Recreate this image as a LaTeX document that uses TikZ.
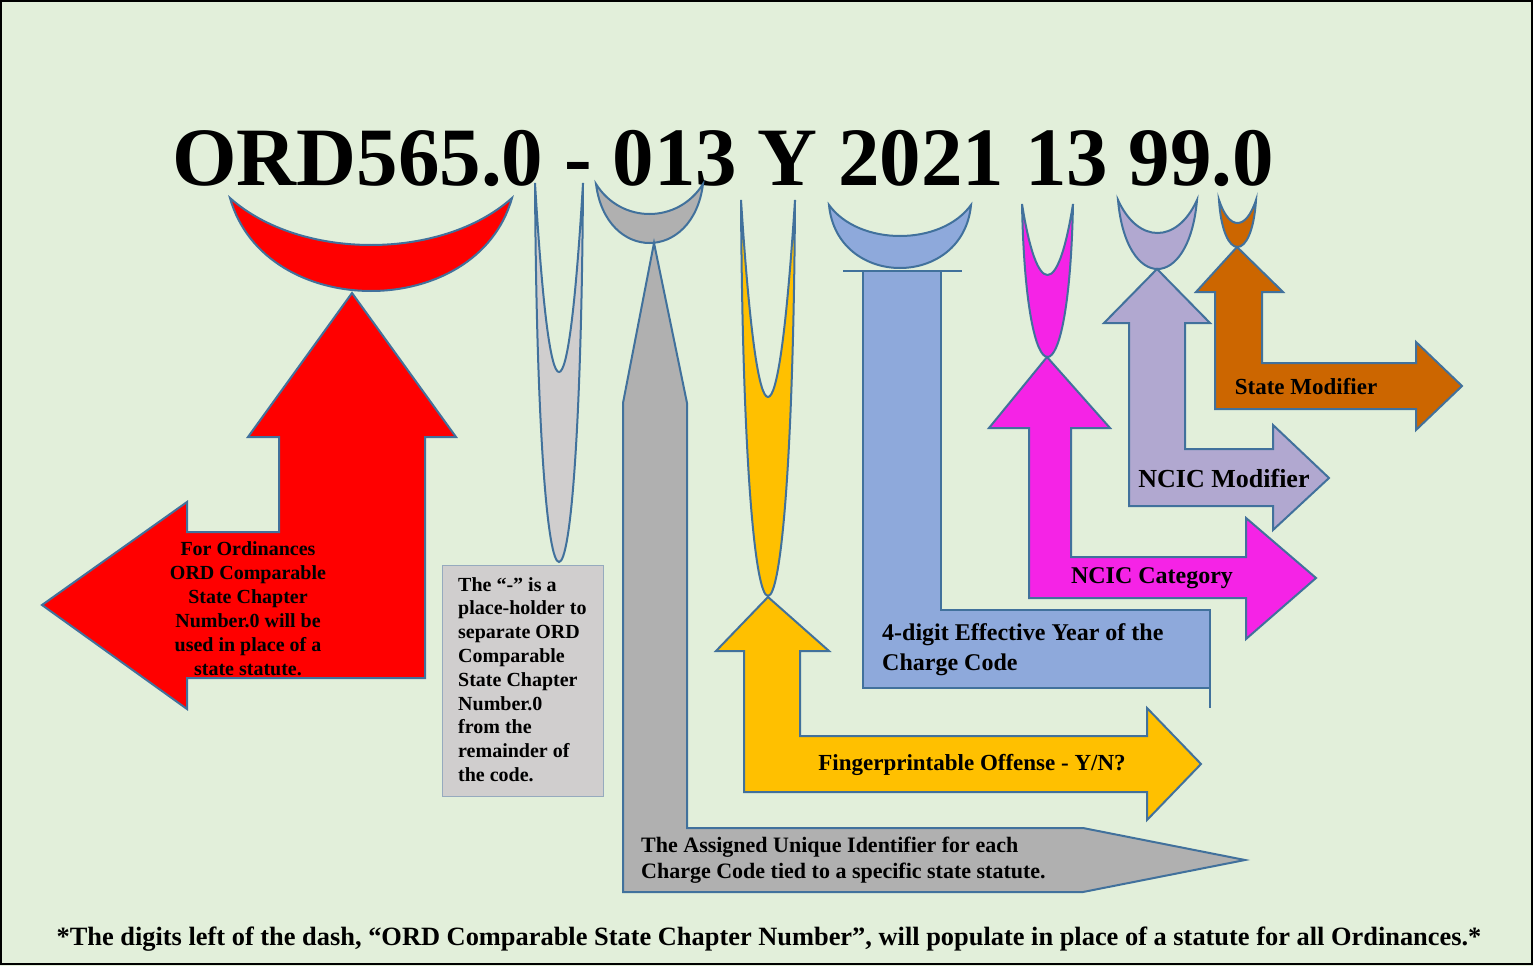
\documentclass[tikz,border=0pt]{standalone}
\usepackage{fontspec}
\setmainfont{Liberation Serif}

\definecolor{paper}{RGB}{226,239,218}
\definecolor{edge}{RGB}{65,113,156}
\definecolor{ordred}{RGB}{255,0,0}
\definecolor{dashgray}{RGB}{208,206,206}
\definecolor{idgray}{RGB}{176,176,176}
\definecolor{fpyellow}{RGB}{255,192,0}
\definecolor{yearblue}{RGB}{142,169,219}
\definecolor{catpink}{RGB}{245,35,230}
\definecolor{modlilac}{RGB}{177,168,208}
\definecolor{stateorange}{RGB}{204,102,0}
\definecolor{boxline}{RGB}{150,170,190}

\newcommand{\fs}[2]{\fontsize{#1}{#2}\selectfont\bfseries}

% moon: style, left x, right x, top y, inner bottom y, outer bottom y, outer inset, inner inset
\newcommand{\moon}[8]{%
  \filldraw[#1] (#2,#4) .. controls ({#2+#7},{#4+4/3*(#6-#4)}) and ({#3-#7},{#4+4/3*(#6-#4)}) .. (#3,#4)
    .. controls ({#3-#8},{#4+4/3*(#5-#4)}) and ({#2+#8},{#4+4/3*(#5-#4)}) .. cycle;}

\tikzset{
  part/.style={draw=edge, line width=2pt, line join=miter},
  lbl/.style={inner sep=0pt, text=black},
  boxed/.style={draw=boxline, line width=1pt, fill=dashgray}
}

\begin{document}
\begin{tikzpicture}[x=1pt,y=-1pt]
\useasboundingbox (0,0) rectangle (1533,966);
\fill[paper] (0,0) rectangle (1533,966);
\draw[line width=1.5pt] (1,1) rectangle (1532,964);

% the code
\node[lbl, anchor=base west, font=\fs{83}{90}] (code) at (172,185) {ORD565.0 - 013 Y 2021 13 99.0};

% ORD part
\moon{part, fill=ordred}{230}{512}{198}{245}{291}{35}{70}
\filldraw[part, fill=ordred] (352,293) -- (456,437) -- (425,437) -- (425,678) -- (187,678) -- (187,709)
  -- (42,605) -- (187,502) -- (187,532) -- (279,532) -- (279,437) -- (248,437) -- cycle;
\node[lbl, align=center, font=\fs{20}{24}] (ordtxt) at (248,609)
  {For Ordinances\\ORD Comparable\\State Chapter\\Number.0 will be\\used in place of a\\state statute.};

% dash
\moon{part, fill=dashgray}{535}{583}{183}{372}{562}{3}{15}
\node[boxed, anchor=north west, minimum width=161pt, minimum height=231pt, inner sep=0pt] (dashbox) at (442,565) {};
\node[lbl, anchor=north west, align=left, font=\fs{20}{23.8}] (dashtxt) at (458,577)
  {The “-” is a\\place-holder to\\separate ORD\\Comparable\\State Chapter\\Number.0\\from the\\remainder of\\the code.};

% unique identifier
\moon{part, fill=idgray}{596}{703}{184}{214}{243}{10}{25}
\filldraw[part, fill=idgray] (654,243) -- (687,403) -- (687,828) -- (1083,828) -- (1245,860) -- (1083,892)
  -- (623,892) -- (623,403) -- cycle;
\node[lbl, anchor=north west, align=left, font=\fs{22}{26}] (idtxt) at (641,837)
  {The Assigned Unique Identifier for each\\Charge Code tied to a specific state statute.};

% fingerprintable
\moon{part, fill=fpyellow}{741}{795}{200}{397}{596}{3}{17}
\filldraw[part, fill=fpyellow] (768,597) -- (829,651) -- (800,651) -- (800,736) -- (1147,736) -- (1147,708)
  -- (1201,764) -- (1147,820) -- (1147,792) -- (744,792) -- (744,651) -- (716,651) -- cycle;
\node[lbl, font=\fs{23}{27}] (fptxt) at (972,765) {Fingerprintable Offense - Y/N?};

% effective year
\moon{part, fill=yearblue}{829}{971}{205}{236}{268}{8}{30}
\filldraw[part, fill=yearblue] (863,271) -- (941,271) -- (941,610) -- (1210,610) -- (1210,688) -- (863,688) -- cycle;
\draw[part] (843,271) -- (962,271);
\draw[part] (1210,610) -- (1210,708);
\node[lbl, anchor=north west, align=left, font=\fs{24}{30}] (yeartxt) at (882,623)
  {4-digit Effective Year of the\\Charge Code};

% NCIC category
\moon{part, fill=catpink}{1022}{1073}{204}{275}{357}{4}{15}
\filldraw[part, fill=catpink] (1047,357) -- (1110,428) -- (1071,428) -- (1071,557) -- (1246,557) -- (1246,518)
  -- (1316,578) -- (1246,639) -- (1246,598) -- (1029,598) -- (1029,428) -- (989,428) -- cycle;
\node[lbl, font=\fs{24}{28}] (cattxt) at (1152,578) {NCIC Category};

% NCIC modifier
\moon{part, fill=modlilac}{1118}{1197}{200}{233}{269}{8}{20}
\filldraw[part, fill=modlilac] (1157,269) -- (1210,323) -- (1185,323) -- (1185,449) -- (1273,449) -- (1273,425)
  -- (1329,478) -- (1273,530) -- (1273,506) -- (1129,506) -- (1129,323) -- (1104,323) -- cycle;
\node[lbl, font=\fs{26}{30}] (modtxt) at (1224,478) {NCIC Modifier};

% state modifier
\moon{part, fill=stateorange}{1219}{1256}{200}{223}{247}{4}{10}
\filldraw[part, fill=stateorange] (1237,247) -- (1283,292) -- (1262,292) -- (1262,363) -- (1416,363) -- (1416,342)
  -- (1462,386) -- (1416,430) -- (1416,409) -- (1215,409) -- (1215,292) -- (1196,292) -- cycle;
\node[lbl, font=\fs{23}{27}] (statetxt) at (1306,387) {State Modifier};

% footnote
\node[lbl, font=\fs{26.4}{31}] (note) at (769,939)
  {*The digits left of the dash, “ORD Comparable State Chapter Number”, will populate in place of a statute for all Ordinances.*};
\end{tikzpicture}
\end{document}
